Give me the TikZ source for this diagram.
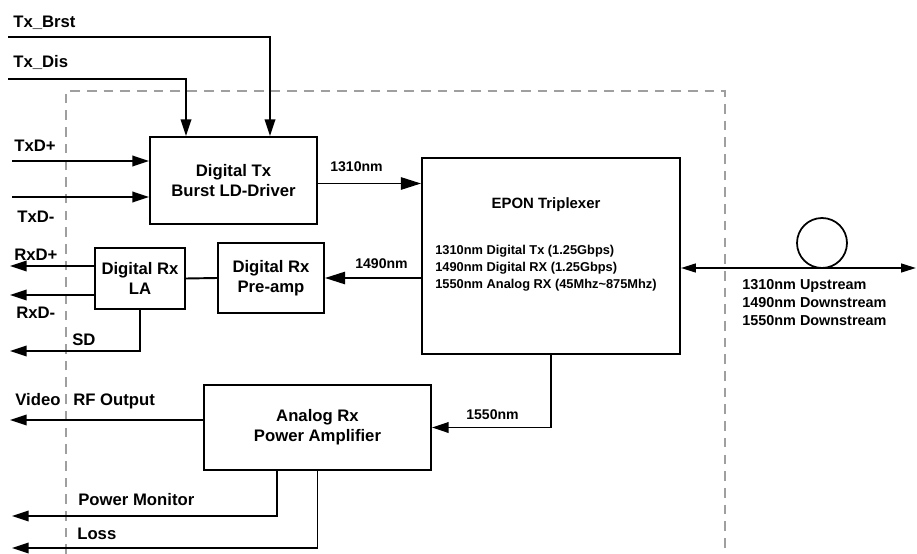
\documentclass[tikz,border=0pt]{standalone}
\usepackage{fontspec}
\setmainfont{Liberation Sans}
\usetikzlibrary{arrows.meta}
\usetikzlibrary{calc}
\tikzstyle{every node}=[inner sep=0pt, font=\bfseries]

\begin{document}
\begin{tikzpicture}[
    x=0.02cm, y=-0.02cm,
    block/.style={%
        draw=black, line width=1.1pt,
        align=center, font=\bfseries\fontsize{9.5}{11.5}\selectfont},
    signal/.style={%
        line width=1.1pt, -{Triangle[length=9.5pt,width=6pt]}},
    beam/.style={%
        line width=1.1pt, -{Triangle[length=11.5pt,width=7pt]}},
    fiber/.style={%
        line width=1.1pt,
        {Triangle[length=8.5pt,width=5pt]}-{Triangle[length=8.5pt,width=5pt]}},
    boundary/.style={%
        draw=gray!75, line width=0.9pt, dash pattern=on 5.5pt off 4pt},
    pin/.style ={anchor=base west, font=\bfseries\fontsize{9.5}{11.5}\selectfont},
    wave/.style={anchor=base west, font=\bfseries\fontsize{8}{10}\selectfont},
]
    \useasboundingbox (0,0) rectangle (917,554);

    % Module boundary
    \draw[boundary] (66,554) |- (725,91) -- (725,554);

    % Blocks
    \node[block, minimum width=3.34cm, minimum height=1.74cm] (txdrv) at (233.5,180.5) {Digital Tx\\Burst LD-Driver};
    \node[block, minimum width=5.16cm, minimum height=3.92cm] (trip) at (551,256) {};
    \node[block, minimum width=1.8cm, minimum height=1.22cm] (la) at (140,278.5) {Digital Rx\\LA};
    \node[block, minimum width=2.12cm, minimum height=1.4cm] (pre) at (271,278) {Digital Rx\\Pre-amp};
    \node[block, minimum width=4.54cm, minimum height=1.7cm] (amp) at (317.5,427.5) {Analog Rx\\Power Amplifier};

    % Triplexer text
    \node[font=\bfseries\fontsize{8.5}{10}\selectfont] (triptitle) at (546,205) {EPON Triplexer};
    \node[anchor=north west, align=left, font=\bfseries\fontsize{7.3}{9.7}\selectfont] (tripinfo) at (435,245)
        {1310nm Digital Tx (1.25Gbps)\\1490nm Digital RX (1.25Gbps)\\1550nm Analog RX (45Mhz\textasciitilde875Mhz)};

    % Fiber side
    \node[draw, circle, line width=1pt, minimum size=1cm] (loop) at (822,243) {};
    \coordinate (fib) at (916,268);
    \draw[fiber] (trip.east |- fib) -- (fib);
    \node[anchor=north west, align=left, font=\bfseries\fontsize{8.2}{10.2}\selectfont] (streams) at (742,279)
        {1310nm Upstream\\1490nm Downstream\\1550nm Downstream};

    % Inputs
    \coordinate (brst) at (8,37);
    \coordinate (dis)  at (8,79);
    \coordinate (txdp) at (12,161);
    \coordinate (txdm) at (12,197);
    \draw[signal] (brst) -| ($(txdrv.north)+(36.5,0)$);
    \draw[signal] (dis)  -| ($(txdrv.north)+(-47.5,0)$);
    \draw[signal] (txdp) -- (txdp -| txdrv.west);
    \draw[signal] (txdm) -- (txdm -| txdrv.west);
    \node[pin] (lbrst) at (13,28)  {Tx\_Brst};
    \node[pin] (ldis)  at (13,68)  {Tx\_Dis};
    \node[pin] (ltxdp) at (14,152) {TxD+};
    \node[pin] (ltxdm) at (17,222) {TxD-};

    % Optical paths
    \draw[beam] ($(txdrv.east)+(0,3)$) -- ($(txdrv.east -| trip.west)+(0,3)$);
    \draw[beam] (trip.west |- pre) -- (pre.east);
    \draw[line width=1.1pt] (pre.west) -- (la.east);
    \draw[signal] (trip.south) |- (amp.east);
    \node[wave] (l1310) at (330,172) {1310nm};
    \node[wave] (l1490) at (355,268) {1490nm};
    \node[wave] (l1550) at (466,419) {1550nm};

    % Outputs
    \coordinate (rxdp)  at (10,266);
    \coordinate (rxdm)  at (10,295);
    \coordinate (sd)    at (10,351);
    \coordinate (video) at (10,420);
    \coordinate (pm)    at (12,516);
    \coordinate (loss)  at (12,548);
    \draw[signal] (la.west |- rxdp) -- (rxdp);
    \draw[signal] (la.west |- rxdm) -- (rxdm);
    \draw[signal] (la.south) |- (sd);
    \draw[signal] (amp.west |- video) -- (video);
    \draw[signal] ($(amp.south)+(-40.5,0)$) |- (pm);
    \draw[signal] (amp.south) |- (loss);
    \node[pin] (lrxdp) at (14,260)  {RxD+};
    \node[pin] (lrxdm) at (16,318)  {RxD-};
    \node[pin] (lsd)   at (72,345)  {SD};
    \node[pin] (lvid)  at (15,405)  {Video};
    \node[pin] (lrf)   at (73,405)  {RF Output};
    \node[pin] (lpm)   at (78,505)  {Power Monitor};
    \node[pin] (lloss) at (77,539)  {Loss};
\end{tikzpicture}
\end{document}
